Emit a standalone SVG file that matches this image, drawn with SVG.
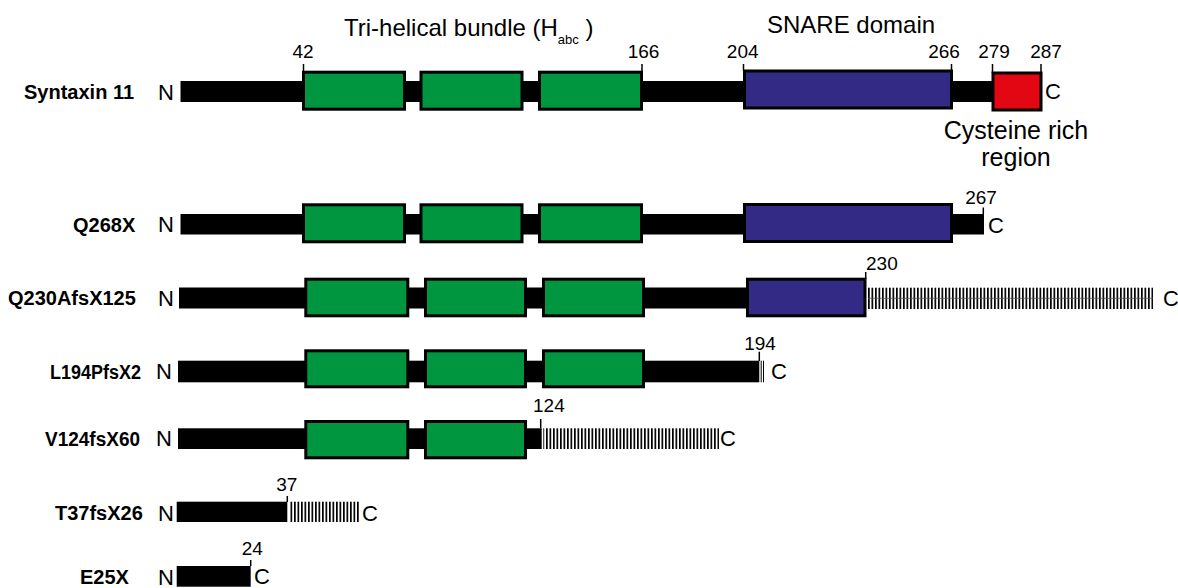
<svg xmlns="http://www.w3.org/2000/svg" width="1178" height="588" viewBox="0 0 1178 588">
  <defs>
    <!-- vertical striping used for frame-shifted tails -->
    <pattern id="hatch" patternUnits="userSpaceOnUse" x="0" y="0" width="3.5" height="40">
      <rect x="0" y="0" width="1.7" height="40" fill="#000"/>
    </pattern>
    <style>
      text { font-family: "Liberation Sans", Arial, sans-serif; fill: #000; }
      .name { font-weight: bold; font-size: 20px; }
      .term { font-size: 22px; }
      .num { font-size: 19px; }
      .title { font-size: 24px; }
      .bar { fill: #000; }
      .box { stroke: #000; stroke-width: 3; }
      .habc { fill: #009640; }
      .snare { fill: #332a86; }
      .cys { fill: #e30613; }
      .tick { stroke: #000; stroke-width: 1.5; }
      .stripe { stroke: #000; stroke-width: 1; }
    </style>
  </defs>
  <rect width="1178" height="588" fill="#fff"/>

  <!-- domain headings -->
  <g id="headings">
    <text class="title" x="344" y="36">Tri-helical bundle (H<tspan font-size="13" dy="8">abc</tspan><tspan dy="-8"> )</tspan></text>
    <text class="title" x="767" y="33" font-size="25">SNARE domain</text>
    <text x="1016" y="139" font-size="25" text-anchor="middle">Cysteine rich</text>
    <text x="1016" y="166" font-size="25" text-anchor="middle">region</text>
  </g>

  <!-- wild type -->
  <g id="syntaxin11">
    <text class="name" x="24" y="99">Syntaxin 11</text>
    <text class="term" x="158" y="100">N</text>
    <rect class="bar" x="180.5" y="81" width="812" height="21"/>
    <rect class="box habc" x="303.5" y="72.2" width="101" height="37"/>
    <rect class="box habc" x="421" y="72.2" width="101" height="37"/>
    <rect class="box habc" x="539.5" y="72.2" width="102" height="37"/>
    <rect class="box snare" x="744.5" y="71" width="207" height="37"/>
    <rect class="box cys" x="993" y="73" width="48" height="37"/>
    <line class="tick" x1="303.5" y1="64" x2="303.5" y2="72"/>
    <line class="tick" x1="642" y1="64" x2="642" y2="72"/>
    <line class="tick" x1="743.5" y1="64" x2="743.5" y2="71"/>
    <line class="tick" x1="951.5" y1="64" x2="951.5" y2="71"/>
    <line class="tick" x1="992.5" y1="64" x2="992.5" y2="73"/>
    <line class="tick" x1="1041" y1="64" x2="1041" y2="73"/>
    <text class="num" x="303" y="58" text-anchor="middle">42</text>
    <text class="num" x="643.5" y="58" text-anchor="middle">166</text>
    <text class="num" x="742.7" y="58" text-anchor="middle">204</text>
    <text class="num" x="944" y="58" text-anchor="middle">266</text>
    <text class="num" x="994" y="58" text-anchor="middle">279</text>
    <text class="num" x="1046" y="58" text-anchor="middle">287</text>
    <text class="term" x="1045" y="99">C</text>
  </g>

  <g id="q268x">
    <text class="name" x="73" y="232">Q268X</text>
    <text class="term" x="158" y="232">N</text>
    <rect class="bar" x="180.5" y="214" width="803.5" height="20.5"/>
    <rect class="box habc" x="303.5" y="204.8" width="101" height="37"/>
    <rect class="box habc" x="421" y="204.8" width="101" height="37"/>
    <rect class="box habc" x="539.5" y="204.8" width="102" height="37"/>
    <rect class="box snare" x="744.5" y="204.5" width="207" height="37"/>
    <line class="tick" x1="983.3" y1="207.5" x2="983.3" y2="214"/>
    <text class="num" x="981" y="204" text-anchor="middle">267</text>
    <text class="term" x="988" y="233">C</text>
  </g>

  <g id="q230afsx125">
    <text class="name" x="8" y="305">Q230AfsX125</text>
    <text class="term" x="158" y="305.5">N</text>
    <rect class="bar" x="179" y="287.5" width="687" height="21"/>
    <rect class="box habc" x="305.8" y="279.2" width="102" height="36.6"/>
    <rect class="box habc" x="425.5" y="279.2" width="100" height="36.6"/>
    <rect class="box habc" x="543.5" y="279.2" width="100" height="36.6"/>
    <rect class="box snare" x="747.5" y="279.2" width="117.5" height="36.6"/>
    <rect x="868" y="287.7" width="285" height="21.3" fill="url(#hatch)"/>
    <line x1="868" y1="298.3" x2="1153" y2="298.3" stroke="#555" stroke-width="0.8"/>
    <line class="tick" x1="865.7" y1="272" x2="865.7" y2="279"/>
    <text class="num" x="866" y="270">230</text>
    <text class="term" x="1163" y="306">C</text>
  </g>

  <g id="l194pfsx2">
    <text class="name" x="50" y="379" textLength="91" lengthAdjust="spacingAndGlyphs">L194PfsX2</text>
    <text class="term" x="156" y="379">N</text>
    <rect class="bar" x="178" y="360.7" width="581.3" height="21.6"/>
    <rect class="box habc" x="305.8" y="350.8" width="102" height="36"/>
    <rect class="box habc" x="425.5" y="350.8" width="100" height="36"/>
    <rect class="box habc" x="543.5" y="350.8" width="100" height="36"/>
    <line class="stripe" x1="761.2" y1="360.7" x2="761.2" y2="382.3"/>
    <line class="stripe" x1="763.5" y1="360.7" x2="763.5" y2="382.3"/>
    <line class="tick" x1="759.3" y1="351.7" x2="759.3" y2="361"/>
    <text class="num" x="760" y="350" text-anchor="middle">194</text>
    <text class="term" x="771" y="379">C</text>
  </g>

  <g id="v124fsx60">
    <text class="name" x="45" y="446" textLength="95" lengthAdjust="spacingAndGlyphs">V124fsX60</text>
    <text class="term" x="156" y="446">N</text>
    <rect class="bar" x="178" y="428.3" width="363.7" height="20.7"/>
    <rect class="box habc" x="305.8" y="421.5" width="102" height="36.3"/>
    <rect class="box habc" x="425.5" y="421.5" width="100" height="36.3"/>
    <rect x="543.3" y="428.3" width="175.7" height="20.7" fill="url(#hatch)"/>
    <line class="tick" x1="540.7" y1="419" x2="540.7" y2="428.3"/>
    <text class="num" x="533" y="412">124</text>
    <text class="term" x="720" y="446">C</text>
  </g>

  <g id="t37fsx26">
    <text class="name" x="55" y="520">T37fsX26</text>
    <text class="term" x="158" y="521">N</text>
    <rect class="bar" x="176.7" y="501.7" width="110.6" height="20.3"/>
    <rect x="289.3" y="501.7" width="70" height="20.3" fill="url(#hatch)"/>
    <line class="tick" x1="287.3" y1="496" x2="287.3" y2="502"/>
    <text class="num" x="286.7" y="491" text-anchor="middle">37</text>
    <text class="term" x="362" y="521">C</text>
  </g>

  <g id="e25x">
    <text class="name" x="80" y="584">E25X</text>
    <text class="term" x="158" y="585">N</text>
    <rect class="bar" x="176.7" y="566" width="74" height="20.7"/>
    <line class="tick" x1="250.7" y1="560" x2="250.7" y2="566"/>
    <text class="num" x="252.3" y="555" text-anchor="middle">24</text>
    <text class="term" x="254" y="584">C</text>
  </g>
</svg>
